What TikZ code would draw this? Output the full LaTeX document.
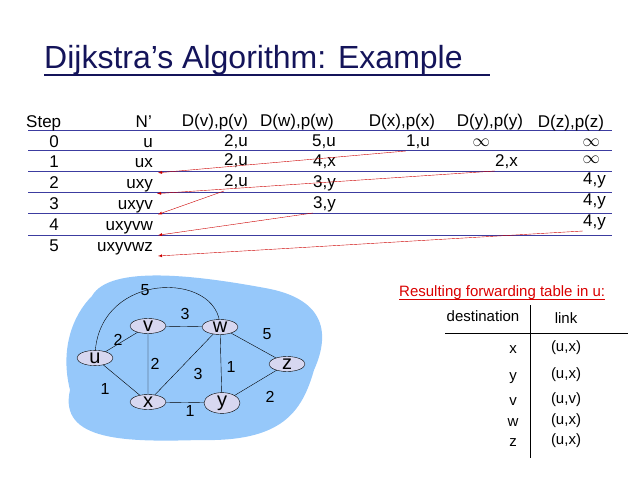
\documentclass[tikz,border=0pt]{standalone}
\usepackage{fontspec}
\setmainfont{Liberation Sans}
\usetikzlibrary{shapes.geometric}
\definecolor{navy}{RGB}{20,20,90}
\definecolor{rowline}{RGB}{60,60,160}
\definecolor{blob}{RGB}{150,200,250}
\definecolor{router}{RGB}{215,215,240}
\tikzset{
  cell/.style={anchor=base east, font=\fontsize{17}{17}\selectfont, inner sep=0pt},
  head/.style={anchor=base, font=\fontsize{17}{17}\selectfont, inner sep=0pt},
  router/.style={ellipse, draw, fill=router, minimum width=36pt, minimum height=15pt, inner sep=0pt, font=\fontsize{20}{20}\selectfont},
  wt/.style={font=\fontsize{16}{16}\selectfont, inner sep=0pt},
  hop/.style={red!80!black, -latex},
  ft/.style={anchor=base, font=\fontsize{15}{15}\selectfont, inner sep=0pt}
}
\begin{document}
\begin{tikzpicture}[x=1pt,y=-1pt]
\useasboundingbox (0,0) rectangle (638,479);

% title
\node[anchor=base west, inner sep=0pt, text=navy, font=\fontsize{32}{32}\selectfont] (title) at (44,68) {Dijkstra’s Algorithm: Example};
\draw[navy, line width=1.2pt] (44,75) -- (490,75);

% table
\foreach \y in {130,150,171,192,213,235}
  \draw[rowline, line width=1pt] (28,\y) -- (612,\y);
\node[anchor=base west, font=\fontsize{17}{17}\selectfont, inner sep=0pt] (step) at (26,127) {Step};
\node[cell] (np) at (152,127) {N'};
\node[head] (hv) at (215,126) {D(v),p(v)};
\node[head] (hw) at (297,126) {D(w),p(w)};
\node[head] (hx) at (402,126) {D(x),p(x)};
\node[head] (hy) at (490,126) {D(y),p(y)};
\node[head] (hz) at (571,127) {D(z),p(z)};
\foreach \i/\s in {0/u,1/ux,2/uxy,3/uxyv,4/uxyvw,5/uxyvwz}{
  \node[head] (s\i) at (54,147+20.8*\i) {\i};
  \node[cell] (n\i) at (153,147+20.8*\i) {\s};
}
\node[cell] (v0) at (248,146) {2,u};
\node[cell] (w0) at (336,146) {5,u};
\node[cell] (x0) at (430,146) {1,u};
\node[cell] (y0) at (490,146) {$\infty$};
\node[cell] (z0) at (600,146) {$\infty$};
\node[cell] (v1) at (248,165) {2,u};
\node[cell] (w1) at (336,166) {4,x};
\node[cell] (y1) at (518,166) {2,x};
\node[cell] (z1) at (600,163) {$\infty$};
\node[cell] (v2) at (248,186) {2,u};
\node[cell] (w2) at (336,187) {3,y};
\node[cell] (z2) at (606,184) {4,y};
\node[cell] (w3) at (336,208) {3,y};
\node[cell] (z3) at (606,205) {4,y};
\node[cell] (z4) at (606,226) {4,y};
\draw[hop] ([yshift=-5pt]x0.base west) -- ([xshift=5pt,yshift=-5pt]n1.base east);
\draw[hop] ([yshift=-5pt]y1.base west) -- ([xshift=4pt,yshift=-5pt]n2.base east);
\draw[hop] ([yshift=-5pt]v2.base west) -- ([xshift=5pt,yshift=-5pt]n3.base east);
\draw[hop] ([yshift=-5pt]w3.base west) -- ([xshift=5pt,yshift=-5pt]n4.base east);
\draw[hop] ([yshift=-5pt]z4.base west) -- ([xshift=5pt,yshift=-5pt]n5.base east);

% network
\fill[blob] (92,296) .. controls (110,264) and (200,276) .. (265,288)
  .. controls (322,298) and (332,330) .. (314,370)
  .. controls (302,412) and (282,442) .. (200,440)
  .. controls (128,442) and (58,442) .. (70,390)
  .. controls (60,350) and (72,316) .. (92,296) -- cycle;
\coordinate (u) at (95,358);
\coordinate (v) at (148,326);
\coordinate (w) at (220,327);
\coordinate (z) at (287,364);
\coordinate (x) at (148,402);
\coordinate (y) at (222,403);
\draw (u) .. controls (95,270) and (220,270) .. (w);
\draw (u) -- (v) -- (w) -- (z) -- (y) -- (x) -- (u);
\draw (v) -- (x) -- (w) -- (y);
\node[router] (ru) at (u) {u};
\node[router] (rv) at (v) {v};
\node[router] (rw) at (w) {w};
\node[router] (rz) at (z) {z};
\node[router] (rx) at (x) {x};
\node[router] (ry) at (y) {y};
\node[wt] (l1) at (145,290) {5};
\node[wt] (l2) at (185,314) {3};
\node[wt] (l3) at (118,340) {2};
\node[wt] (l4) at (155,364) {2};
\node[wt] (l5) at (198,374) {3};
\node[wt] (l6) at (231,367) {1};
\node[wt] (l7) at (267,334) {5};
\node[wt] (l8) at (105,389) {1};
\node[wt] (l9) at (270,397) {2};
\node[wt] (l10) at (190,411) {1};

% forwarding table
\node[anchor=base west, inner sep=0pt, text=red!85!black, font=\fontsize{15}{15}\selectfont] (res) at (399,296) {Resulting forwarding table in u:};
\draw[red!85!black] ([yshift=-3pt]res.base west) -- ([yshift=-3pt]res.base east);
\node[ft] (dst) at (483,321) {destination};
\node[ft] (lnk) at (566,323) {link};
\draw (445,333) -- (628,333);
\draw (530,305) -- (530,458);
\foreach \d/\l/\ya/\yb in {x/{(u,x)}/353/351,y/{(u,x)}/380/378,v/{(u,v)}/405/403,w/{(u,x)}/426/424,z/{(u,x)}/446/444}{
  \node[ft] at (513,\ya) {\d};
  \node[ft] at (566,\yb) {\l};
}
\end{tikzpicture}
\end{document}
